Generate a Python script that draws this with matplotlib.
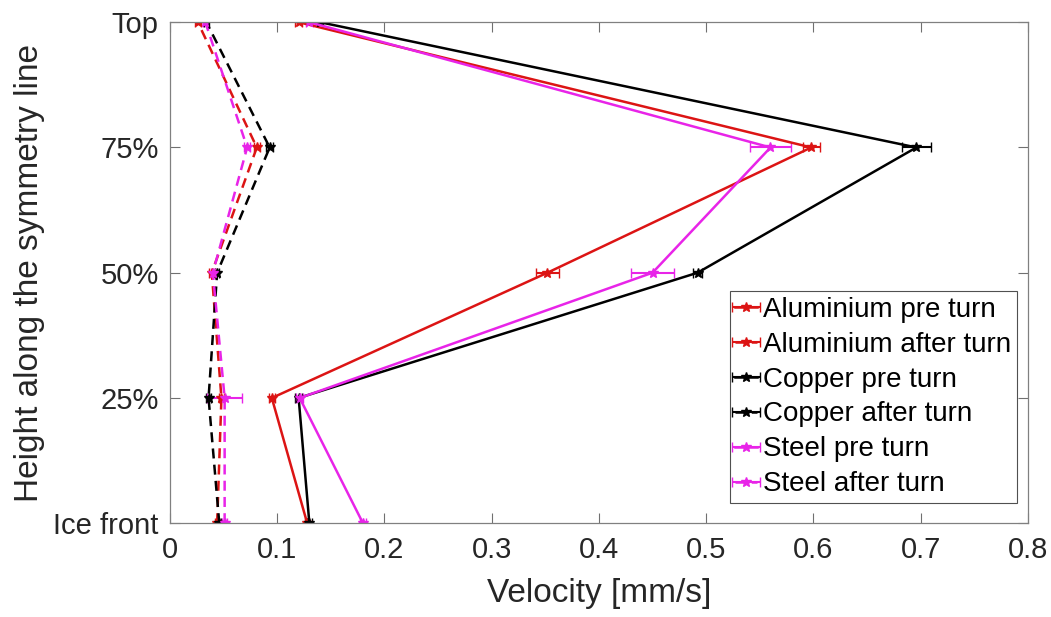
import matplotlib
matplotlib.use("Agg")
import matplotlib.pyplot as plt
import numpy as np

plt.rcParams['font.family'] = ['Liberation Sans', 'DejaVu Sans']

heights = ['Ice front', '25%', '50%', '75%', 'Top']
ypos = [0, 1, 2, 3, 4]

# velocities [mm/s], ordered Ice front -> Top
al_pre = [0.128, 0.095, 0.352, 0.598, 0.120]
al_pre_err = [0.002, 0.003, 0.011, 0.008, 0.003]
al_after = [0.044, 0.048, 0.039, 0.081, 0.026]
al_after_err = [0.002, 0.002, 0.003, 0.003, 0.003]
cu_pre = [0.130, 0.120, 0.492, 0.696, 0.140]
cu_pre_err = [0.002, 0.003, 0.004, 0.0135, 0.003]
cu_after = [0.046, 0.036, 0.044, 0.093, 0.034]
cu_after_err = [0.002, 0.002, 0.002, 0.003, 0.002]
st_pre = [0.180, 0.121, 0.450, 0.560, 0.130]
st_pre_err = [0.003, 0.003, 0.020, 0.019, 0.003]
st_after = [0.051, 0.051, 0.040, 0.072, 0.033]
st_after_err = [0.002, 0.016, 0.002, 0.003, 0.002]

red = '#dc1414'
mag = '#e824e8'

fig = plt.figure(figsize=(10.51, 6.17), dpi=100)
ax = fig.add_axes([0.1617, 0.152, 0.8163, 0.812])

series = [
    (al_pre, al_pre_err, red, '-', 'Aluminium pre turn'),
    (al_after, al_after_err, red, (0, (4, 2.5)), 'Aluminium after turn'),
    (cu_pre, cu_pre_err, 'black', '-', 'Copper pre turn'),
    (cu_after, cu_after_err, 'black', (0, (4, 2.5)), 'Copper after turn'),
    (st_pre, st_pre_err, mag, '-', 'Steel pre turn'),
    (st_after, st_after_err, mag, (0, (4, 2.5)), 'Steel after turn'),
]
for vals, err, c, ls, lab in series:
    ax.errorbar(vals, ypos, xerr=err, color=c, ls=ls, lw=1.8, marker='*',
                markersize=7, capsize=3.5, elinewidth=1.5, label=lab)

ax.set_xlim(0, 0.8)
ax.set_ylim(0, 4)
ax.set_yticks(ypos)
ax.set_yticklabels(heights)
ax.set_xticks(np.arange(0, 0.81, 0.1))
ax.set_xticklabels(['0', '0.1', '0.2', '0.3', '0.4', '0.5', '0.6', '0.7', '0.8'])
ax.tick_params(direction='in', length=7, width=0.8, color='#707070',
               labelsize=21, labelcolor='#262626', top=True, right=True)
ax.tick_params(axis='x', pad=9)
ax.tick_params(axis='y', pad=8)
for s in ax.spines.values():
    s.set_color('#808080')
    s.set_linewidth(0.9)

ax.set_xlabel('Velocity [mm/s]', fontsize=24, color='#262626', labelpad=10)
ax.set_ylabel('Height along the symmetry line', fontsize=24, color='#262626', labelpad=6)

leg = ax.legend(loc='upper right', bbox_to_anchor=(0.987, 0.463), fontsize=20,
                handlelength=0.8, handletextpad=0.2, borderpad=0.2,
                labelspacing=0.32, borderaxespad=0, fancybox=False,
                framealpha=1, edgecolor='#505050')
leg.get_frame().set_linewidth(0.8)

fig.savefig('out.png', dpi=100)
